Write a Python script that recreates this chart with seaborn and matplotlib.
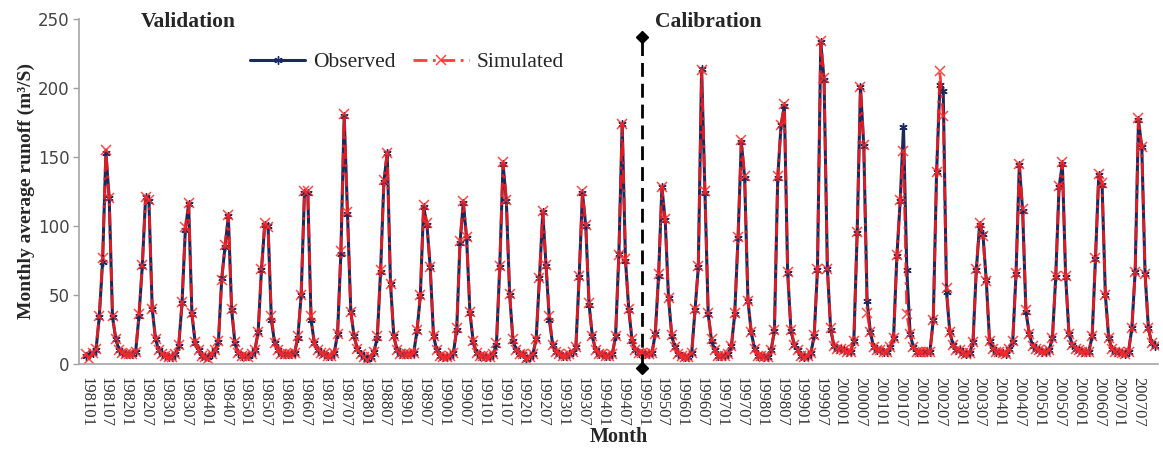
import numpy as np
import pandas as pd
import seaborn as sns
from matplotlib import pyplot as plt

years = list(range(1981, 2008))
split_month = '199501'

# monthly average runoff (m3/s), Jan..Dec
obs_validation = [
    [6, 7, 8, 10, 34, 74, 153, 120, 34, 18, 10, 8],     # 1981
    [7, 7, 7, 9, 35, 71, 121, 118, 40, 18, 10, 7],      # 1982
    [6, 5, 5, 7, 13, 44, 97, 116, 36, 15, 10, 6],       # 1983
    [5, 5, 7, 10, 16, 62, 85, 107, 39, 15, 8, 6],       # 1984
    [6, 6, 7, 10, 23, 68, 101, 100, 32, 15, 10, 7],     # 1985
    [7, 7, 7, 8, 19, 50, 124, 124, 32, 15, 10, 8],      # 1986
    [7, 6, 6, 8, 22, 80, 180, 109, 38, 20, 11, 7],      # 1987
    [5, 4, 5, 9, 19, 67, 132, 153, 58, 20, 10, 7],      # 1988
    [7, 7, 7, 8, 24, 49, 114, 101, 70, 20, 10, 6],      # 1989
    [5, 5, 6, 8, 25, 88, 117, 91, 37, 16, 8, 6],        # 1990
    [6, 5, 5, 7, 14, 70, 145, 118, 50, 17, 10, 7],      # 1991
    [7, 4, 5, 7, 18, 62, 110, 71, 32, 14, 9, 7],        # 1992
    [6, 6, 7, 9, 12, 63, 124, 100, 43, 20, 10, 7],      # 1993
    [7, 6, 6, 7, 20, 80, 174, 75, 39, 17, 10, 8],       # 1994
]
obs_calibration = [
    [8, 7, 7, 8, 22, 64, 128, 104, 48, 20, 12, 7],      # 1995
    [6, 5, 5, 8, 39, 70, 214, 124, 36, 17, 10, 6],      # 1996
    [6, 6, 7, 13, 36, 91, 161, 135, 46, 23, 11, 6],     # 1997
    [6, 5, 5, 10, 24, 135, 173, 187, 66, 24, 14, 10],   # 1998
    [6, 5, 6, 8, 20, 68, 233, 206, 69, 25, 13, 11],     # 1999
    [11, 10, 9, 9, 17, 95, 201, 158, 46, 23, 12, 10],   # 2000
    [10, 9, 9, 12, 19, 78, 118, 172, 68, 22, 12, 9],    # 2001
    [9, 9, 9, 9, 32, 139, 202, 198, 52, 23, 14, 10],    # 2002
    [10, 8, 7, 8, 16, 68, 101, 94, 61, 17, 11, 9],      # 2003
    [9, 8, 7, 11, 16, 65, 144, 111, 38, 22, 13, 11],    # 2004
    [10, 9, 9, 10, 19, 63, 128, 145, 63, 22, 14, 11],   # 2005
    [10, 9, 9, 9, 20, 76, 137, 130, 50, 19, 11, 9],     # 2006
    [9, 8, 7, 9, 26, 67, 177, 157, 65, 26, 15, 13],     # 2007
]
sim_validation = [
    [7, 4, 8, 11, 35, 77, 155, 120, 35, 18, 10, 8],
    [7, 7, 7, 9, 36, 72, 121, 119, 40, 18, 10, 7],
    [6, 5, 5, 7, 14, 45, 99, 117, 37, 16, 10, 6],
    [5, 4, 7, 10, 17, 61, 86, 108, 40, 16, 8, 6],
    [6, 5, 7, 10, 23, 69, 102, 99, 35, 15, 10, 7],
    [7, 7, 7, 8, 20, 50, 125, 125, 35, 15, 10, 8],
    [7, 6, 6, 8, 22, 82, 181, 110, 38, 20, 11, 7],
    [5, 3, 5, 9, 20, 68, 133, 153, 58, 20, 10, 7],
    [7, 7, 7, 8, 25, 50, 115, 102, 70, 20, 10, 6],
    [5, 5, 6, 8, 26, 89, 118, 92, 38, 17, 8, 6],
    [6, 5, 5, 7, 15, 71, 146, 119, 51, 18, 10, 7],
    [7, 4, 5, 7, 18, 62, 111, 72, 35, 14, 9, 7],
    [6, 6, 7, 9, 12, 64, 125, 101, 44, 20, 10, 7],
    [7, 6, 6, 7, 20, 79, 174, 76, 40, 18, 10, 8],
]
sim_calibration = [
    [8, 7, 7, 8, 22, 65, 128, 105, 48, 21, 12, 7],
    [6, 5, 5, 8, 40, 71, 213, 125, 37, 18, 10, 6],
    [6, 6, 7, 13, 37, 92, 162, 136, 46, 23, 11, 6],
    [6, 5, 5, 10, 25, 136, 173, 188, 67, 25, 14, 10],
    [6, 5, 6, 8, 21, 69, 234, 207, 69, 26, 13, 11],
    [11, 10, 9, 9, 17, 96, 201, 159, 37, 23, 12, 10],
    [10, 9, 9, 12, 19, 79, 119, 154, 36, 22, 12, 9],
    [9, 9, 9, 9, 32, 139, 212, 180, 55, 23, 14, 10],
    [10, 8, 7, 8, 16, 69, 102, 93, 60, 17, 11, 9],
    [9, 8, 7, 11, 17, 66, 145, 112, 39, 22, 13, 11],
    [10, 9, 9, 10, 19, 64, 129, 146, 64, 22, 14, 11],
    [10, 9, 9, 9, 20, 77, 138, 131, 50, 19, 11, 9],
    [9, 8, 7, 9, 26, 67, 178, 157, 65, 26, 15, 13],
]
split_marks = [-3, 237]

months = [f'{y}{m:02d}' for y in years for m in range(1, 13)]
df = pd.DataFrame({
    'month': months,
    'pos': np.arange(len(months)),
    'Observed': sum(obs_validation + obs_calibration, []),
    'Simulated': sum(sim_validation + sim_calibration, []),
})

sns.set_theme(style='white')
plt.rcParams['font.family'] = ['Liberation Serif', 'DejaVu Serif']

f, ax = plt.subplots(figsize=(11.63, 4.5), dpi=100)
plt.subplots_adjust(left=0.068, right=0.9957, bottom=0.191, top=0.958)

navy = '#1b2a5e'
sns.lineplot(data=df, x='pos', y='Observed', ax=ax, color=navy, lw=2.2,
             marker=(6, 2, 0), markersize=6, markeredgecolor=navy,
             markeredgewidth=1.0, label='Observed')
sns.lineplot(data=df, x='pos', y='Simulated', ax=ax, color='#ff1a1a', lw=2.0,
             marker='x', markersize=6.5, markeredgecolor='#ff2a2a',
             markeredgewidth=1.1, alpha=0.85, label='Simulated')
ax.lines[-1].set_dashes((5, 2, 1, 2))

xs = months.index(split_month)
ax.plot([xs, xs], split_marks, color='black', lw=2, dashes=(5, 2.5),
        marker='D', markersize=6.5, clip_on=False, zorder=5)

ax.set_xlim(-2.1, len(months) - 0.1)
ax.set_ylim(0, 250)
ax.set_yticks(range(0, 251, 50))
ax.set_yticklabels([str(v) for v in range(0, 251, 50)], family='DejaVu Sans',
                   fontsize=12, color='#444444')
ticks = list(range(0, len(months), 6))
ax.set_xticks(ticks)
ax.set_xticklabels([months[i] for i in ticks], rotation=270, fontsize=12,
                   color='#333333')
ax.tick_params(axis='x', length=0, pad=9)
ax.tick_params(axis='y', length=4, width=1, color='#a0a0a0', left=True, pad=3)

for s in ['top', 'right']:
    ax.spines[s].set_visible(False)
for s in ['left', 'bottom']:
    ax.spines[s].set_color('#a6a6a6')
    ax.spines[s].set_linewidth(1.2)

ax.set_ylabel('Monthly average runoff (m³/S)', fontsize=14, fontweight='bold',
              labelpad=2)
ax.set_xlabel('Month', fontsize=14.5, fontweight='bold', labelpad=0)

ax.text(0.101, 0.99, 'Validation', transform=ax.transAxes, ha='center',
        va='center', fontsize=15.5, fontweight='bold')
ax.text(0.583, 0.99, 'Calibration', transform=ax.transAxes, ha='center',
        va='center', fontsize=15.5, fontweight='bold')

ax.legend(loc='center left', bbox_to_anchor=(0.148, 0.875), ncol=2,
          frameon=False, fontsize=15.5, handlelength=2.6, handletextpad=0.35,
          columnspacing=0.8, borderpad=0)

f.savefig('out.png')
